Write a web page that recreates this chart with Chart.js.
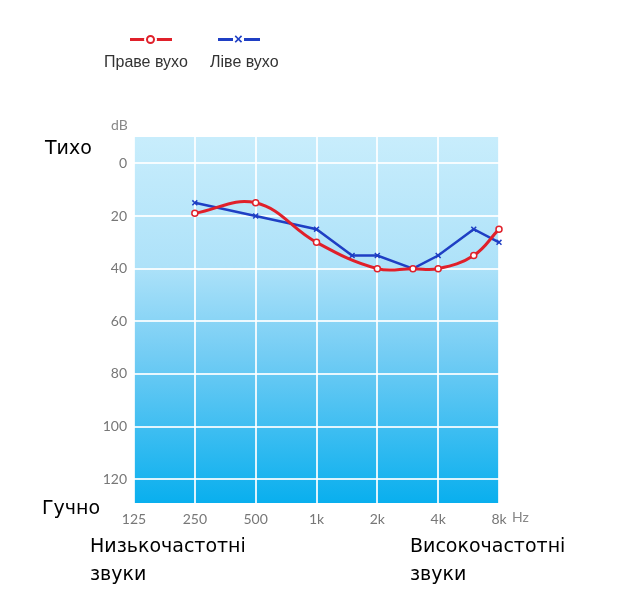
<!DOCTYPE html>
<html lang="uk">
<head>
<meta charset="UTF-8">
<title>Аудіограма</title>
<script src="https://cdn.jsdelivr.net/npm/chart.js"></script>
<style>
    body { margin: 0; background: #fff; }
    .wrap { position: relative; width: 620px; height: 604px; }
    canvas { position: absolute; left: 0; top: 0; }
    .lbl { position: absolute; white-space: nowrap; }
    .side { font-family: "DejaVu Sans", sans-serif; font-size: 19px; color: #000; line-height: 28px; }
    .leg { font-family: "Liberation Sans", Arial, sans-serif; font-size: 16px; color: #333; }
    .unit { font-family: Lato, sans-serif; font-size: 14px; color: #888; }
    .mark { position: absolute; height: 3px; }
</style>
</head>
<body>
<div class="wrap">
    <canvas id="audio" width="620" height="604"></canvas>

    <!-- legend -->
    <div class="mark" style="left:130px;top:38px;width:42px;background:#e0202a"></div>
    <div class="lbl" style="left:146px;top:35px;width:5px;height:5px;border:2px solid #e0202a;border-radius:50%;background:#fff;box-shadow:0 0 0 2px #fff"></div>
    <div class="lbl leg" style="left:104px;top:53px">Праве вухо</div>
    <div class="mark" style="left:218px;top:38px;width:42px;background:#1f3fc4"></div>
    <div class="lbl leg" style="left:233px;top:30px;color:#1f3fc4;font-size:15px;font-weight:bold;background:#fff;line-height:17px;padding:0 1px">×</div>
    <div class="lbl leg" style="left:210px;top:53px">Ліве вухо</div>

    <div class="lbl unit" style="left:111px;top:116px">dB</div>
    <div class="lbl unit" style="left:512px;top:508px">Hz</div>

    <div class="lbl side" style="left:45px;top:133px">Тихо</div>
    <div class="lbl side" style="left:42px;top:493px">Гучно</div>
    <div class="lbl side" style="left:90px;top:531px">Низькочастотні<br>звуки</div>
    <div class="lbl side" style="left:410px;top:531px">Високочастотні<br>звуки</div>
</div>
<script>
    // frequencies as octave index above 125 Hz: log2(f / 125)
    const freqLabels = ['125', '250', '500', '1k', '2k', '4k', '8k'];
    const dbTicks = [0, 20, 40, 60, 80, 100, 120];

    const rightFreq = [250, 500, 1000, 2000, 3000, 4000, 6000, 8000];
    const rightDb = [19, 15, 30, 40, 40, 40, 35, 25];

    const leftFreq = [250, 500, 1000, 1500, 2000, 3000, 4000, 6000, 8000];
    const leftDb = [15, 20, 25, 35, 35, 40, 35, 25, 30];

    const oct = f => Math.log2(f / 125);
    const toPoints = (fs, ds) => fs.map((f, i) => ({ x: oct(f), y: ds[i] }));

    // blue gradient behind the plot
    const plotBg = {
        id: 'plotBg',
        beforeDraw(chart) {
            const { ctx, chartArea: a } = chart;
            const g = ctx.createLinearGradient(0, a.top, 0, a.bottom);
            g.addColorStop(0, '#c8edfc');
            g.addColorStop(0.35, '#aee2f9');
            g.addColorStop(0.6, '#72ccf4');
            g.addColorStop(1, '#09afee');
            ctx.save();
            ctx.fillStyle = g;
            ctx.fillRect(a.left, a.top, a.right - a.left, a.bottom - a.top);
            ctx.restore();
        }
    };

    new Chart(document.getElementById('audio'), {
        type: 'line',
        data: {
            datasets: [
                {
                    label: 'Праве вухо',
                    data: toPoints(rightFreq, rightDb),
                    borderColor: '#e0202a',
                    borderWidth: 3,
                    tension: 0.4,
                    clip: 8,
                    pointStyle: 'circle',
                    pointRadius: 3,
                    pointBorderWidth: 1.5,
                    pointBackgroundColor: '#ffffff',
                    pointBorderColor: '#e0202a'
                },
                {
                    label: 'Ліве вухо',
                    data: toPoints(leftFreq, leftDb),
                    borderColor: '#1f3fc4',
                    borderWidth: 2.5,
                    tension: 0,
                    clip: 8,
                    pointStyle: 'crossRot',
                    pointRadius: 3.5,
                    pointBorderWidth: 1.5,
                    pointBorderColor: '#1f3fc4'
                }
            ]
        },
        options: {
            responsive: false,
            animation: false,
            layout: { padding: { top: 137, right: 121, left: 0, bottom: 0 } },
            plugins: { legend: { display: false }, tooltip: { enabled: false } },
            scales: {
                x: {
                    type: 'linear',
                    min: 0,
                    max: 6,
                    afterFit: s => { s.height = 101; },
                    afterBuildTicks: s => { s.ticks = freqLabels.map((_, i) => ({ value: i })); },
                    grid: { color: 'rgba(255,255,255,0.85)', lineWidth: 2, drawTicks: false },
                    border: { display: false },
                    ticks: {
                        padding: 8,
                        color: '#777',
                        font: { family: 'Lato', size: 14 },
                        maxRotation: 0,
                        callback: v => freqLabels[v]
                    }
                },
                y: {
                    type: 'linear',
                    reverse: true,
                    min: -10,
                    max: 129,
                    afterFit: s => { s.width = 134; },
                    afterBuildTicks: s => { s.ticks = dbTicks.map(v => ({ value: v })); },
                    grid: { color: 'rgba(255,255,255,0.85)', lineWidth: 2, drawTicks: false },
                    border: { display: false },
                    ticks: {
                        padding: 7,
                        color: '#777',
                        font: { family: 'Lato', size: 14 }
                    }
                }
            }
        },
        plugins: [plotBg]
    });
</script>
</body>
</html>
